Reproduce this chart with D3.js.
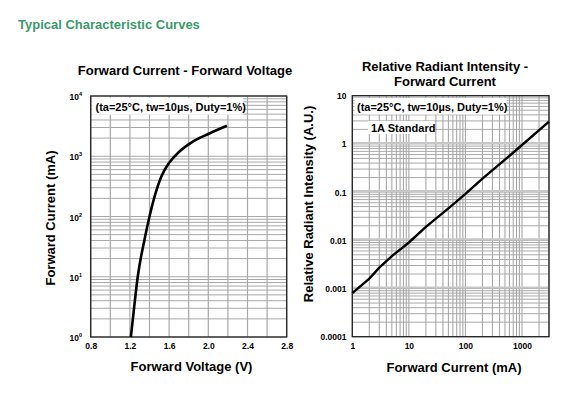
<!DOCTYPE html>
<html><head><meta charset="utf-8">
<script src="https://cdn.jsdelivr.net/npm/d3@7"></script>
<style>
html,body{margin:0;padding:0;background:#fff;}
svg{display:block;font-family:"Liberation Sans",Arial,sans-serif;}
</style></head>
<body><svg id="c" width="584" height="395"></svg>
<script>
// ---- Data ----
const vfVoltage = [1.21, 1.245, 1.28, 1.35, 1.40, 1.45, 1.52, 1.60, 1.70, 1.83, 2.0, 2.19];
const vfCurrent = [1, 3.3, 10, 42, 100, 209, 457, 776, 1175, 1700, 2340, 3200];
const vfXTicks = [0.8, 1.2, 1.6, 2.0, 2.4, 2.8];
const vfYTicks = [0, 1, 2, 3, 4]; // exponents of 10

const riCurrent = [1, 2, 3, 5, 10, 20, 50, 100, 200, 500, 1000, 3000];
const riIntensity = [0.0008, 0.0016, 0.0027, 0.0047, 0.009, 0.019, 0.046, 0.092, 0.19, 0.47, 0.95, 2.9];
const riXTicks = [1, 10, 100, 1000];
const riYTicks = [10, 1, 0.1, 0.01, 0.001, 0.0001];
const riYTickLabels = ["10", "1", "0.1", "0.01", "0.001", "0.0001"];

const svg = d3.select("#c");
const gridColor = "#a8a8a8";

svg.append("text").attr("x", 18).attr("y", 28.5)
  .attr("font-size", 13).attr("font-weight", "bold").attr("fill", "#3a9a6c")
  .text("Typical Characteristic Curves");

function logMinor(lo, hi) {
  const out = [];
  for (let e = Math.floor(Math.log10(lo)); e <= Math.ceil(Math.log10(hi)); e++) {
    for (let m = 1; m <= 9; m++) {
      const v = m * Math.pow(10, e);
      if (v >= lo * 0.999 && v <= hi * 1.001) out.push(v);
    }
  }
  return out;
}

// ---------- Left chart ----------
{
  const x = d3.scaleLinear().domain([0.8, 2.8]).range([90.7, 286.7]);
  const y = d3.scaleLog().domain([1, 1e4]).range([337, 96]);
  const g = svg.append("g");
  const vGrid = d3.range(0, 11).map(i => 0.8 + i * 0.2);
  g.selectAll(".vg").data(vGrid).join("line")
    .attr("x1", d => x(d)).attr("x2", d => x(d)).attr("y1", y(1)).attr("y2", y(1e4))
    .attr("stroke", gridColor).attr("stroke-width", 1.2);
  g.selectAll(".hg").data(logMinor(1, 1e4)).join("line")
    .attr("x1", x(0.8)).attr("x2", x(2.8)).attr("y1", d => y(d)).attr("y2", d => y(d))
    .attr("stroke", gridColor).attr("stroke-width", 1);
  g.append("rect").attr("x", 92).attr("y", 97.7).attr("width", 151).attr("height", 17).attr("fill", "#fff");
  g.append("text").attr("x", 95.5).attr("y", 110.5).attr("font-size", 11).attr("font-weight", "bold")
    .text("(ta=25°C, tw=10µs, Duty=1%)");
  g.append("rect").attr("x", x(0.8)).attr("y", y(1e4)).attr("width", x(2.8) - x(0.8)).attr("height", y(1) - y(1e4))
    .attr("fill", "none").attr("stroke", "#222").attr("stroke-width", 1.3);
  const line = d3.line().x((d, i) => x(vfVoltage[i])).y((d, i) => y(vfCurrent[i])).curve(d3.curveMonotoneX);
  g.append("path").datum(vfVoltage).attr("d", line).attr("fill", "none").attr("stroke", "#000").attr("stroke-width", 2.6);

  const xAxis = d3.axisBottom(x).tickValues(vfXTicks).tickFormat(d3.format(".1f")).tickSize(0).tickPadding(6);
  const ax = g.append("g").attr("transform", `translate(0,${y(1)})`).call(xAxis);
  ax.select(".domain").remove();
  ax.selectAll("text").attr("font-size", 8.5).attr("font-weight", "bold").attr("fill", "#000")
    .attr("font-family", "Liberation Sans, Arial, sans-serif");

  const yt = g.selectAll(".yt").data(vfYTicks).join("text")
    .attr("x", 82).attr("y", d => y(Math.pow(10, d)) + 4)
    .attr("text-anchor", "end").attr("font-size", 8.5).attr("font-weight", "bold");
  yt.append("tspan").text("10");
  yt.append("tspan").attr("dy", -4).attr("font-size", 5.5).text(d => d);

  svg.append("text").attr("x", 185).attr("y", 75).attr("text-anchor", "middle")
    .attr("font-size", 13).attr("font-weight", "bold").text("Forward Current - Forward Voltage");
  svg.append("text").attr("x", 191.5).attr("y", 371).attr("text-anchor", "middle")
    .attr("font-size", 13).attr("font-weight", "bold").text("Forward Voltage (V)");
  svg.append("text").attr("transform", "translate(55,218) rotate(-90)").attr("text-anchor", "middle")
    .attr("font-size", 13).attr("font-weight", "bold").text("Forward Current (mA)");
}

// ---------- Right chart ----------
{
  const x = d3.scaleLog().domain([1, 3000]).range([352.3, 549]);
  const y = d3.scaleLog().domain([1e-4, 10]).range([336.7, 95.7]);
  const g = svg.append("g");
  g.selectAll(".vg").data(logMinor(1, 3000)).join("line")
    .attr("x1", d => x(d)).attr("x2", d => x(d)).attr("y1", y(1e-4)).attr("y2", y(10))
    .attr("stroke", gridColor).attr("stroke-width", 1.1);
  g.selectAll(".hg").data(logMinor(1e-4, 10)).join("line")
    .attr("x1", x(1)).attr("x2", x(3000)).attr("y1", d => y(d)).attr("y2", d => y(d))
    .attr("stroke", gridColor).attr("stroke-width", 1);
  g.selectAll(".hmaj").data(riYTicks.slice(1, 5)).join("line")
    .attr("x1", x(1)).attr("x2", x(3000)).attr("y1", d => y(d) - 1).attr("y2", d => y(d) - 1)
    .attr("stroke", "#c8c8c8").attr("stroke-width", 2);
  g.append("rect").attr("x", 354.5).attr("y", 98).attr("width", 152).attr("height", 16.5).attr("fill", "#fff");
  g.append("text").attr("x", 357).attr("y", 110.5).attr("font-size", 11).attr("font-weight", "bold")
    .text("(ta=25°C, tw=10µs, Duty=1%)");
  g.append("rect").attr("x", 368).attr("y", 121).attr("width", 66).attr("height", 13).attr("fill", "#fff");
  g.append("text").attr("x", 371).attr("y", 132).attr("font-size", 11).attr("font-weight", "bold")
    .text("1A Standard");
  g.append("rect").attr("x", x(1)).attr("y", y(10)).attr("width", x(3000) - x(1)).attr("height", y(1e-4) - y(10))
    .attr("fill", "none").attr("stroke", "#222").attr("stroke-width", 1.3);
  const line = d3.line().x((d, i) => x(riCurrent[i])).y((d, i) => y(riIntensity[i]));
  g.append("path").datum(riCurrent).attr("d", line).attr("fill", "none").attr("stroke", "#000").attr("stroke-width", 2.4);

  const xAxis = d3.axisBottom(x).tickValues(riXTicks).tickFormat(d3.format("d")).tickSize(0).tickPadding(6);
  const ax = g.append("g").attr("transform", `translate(0,${y(1e-4)})`).call(xAxis);
  ax.select(".domain").remove();
  ax.selectAll("text").attr("font-size", 8.5).attr("font-weight", "bold").attr("fill", "#000")
    .attr("font-family", "Liberation Sans, Arial, sans-serif");

  g.selectAll(".yt").data(riYTicks).join("text")
    .attr("x", 346.5).attr("y", d => y(d) + 3.5)
    .attr("text-anchor", "end").attr("font-size", 8.5).attr("font-weight", "bold")
    .text((d, i) => riYTickLabels[i]);

  svg.append("text").attr("x", 445).attr("y", 71).attr("text-anchor", "middle")
    .attr("font-size", 13).attr("font-weight", "bold").text("Relative Radiant Intensity -");
  svg.append("text").attr("x", 445).attr("y", 85.5).attr("text-anchor", "middle")
    .attr("font-size", 13).attr("font-weight", "bold").text("Forward Current");
  svg.append("text").attr("x", 454).attr("y", 371.5).attr("text-anchor", "middle")
    .attr("font-size", 13).attr("font-weight", "bold").text("Forward Current (mA)");
  svg.append("text").attr("transform", "translate(313,204) rotate(-90)").attr("text-anchor", "middle")
    .attr("font-size", 13).attr("font-weight", "bold").text("Relative Radiant Intensity (A.U.)");
}
</script></body></html>
